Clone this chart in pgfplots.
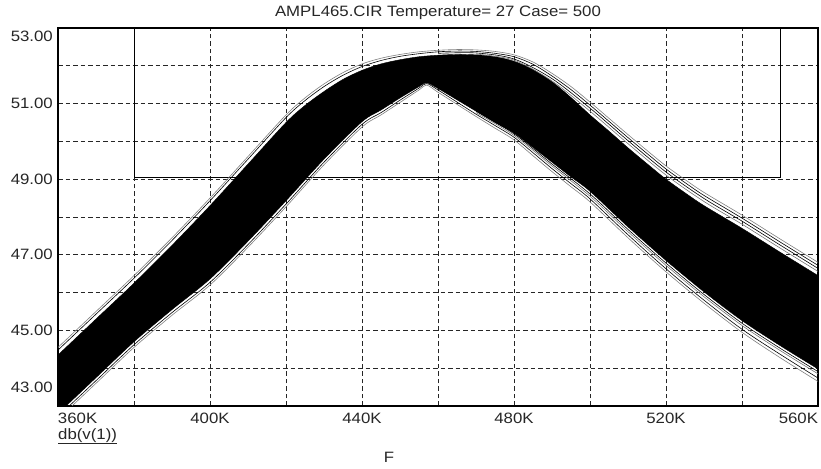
\documentclass[border=0pt]{standalone}
\usepackage{fontspec}
\setmainfont{Liberation Sans}[FakeStretch=1.12]
\usepackage{pgfplots}
\pgfplotsset{compat=1.18}
\newcommand{\fs}{\fontsize{15}{17}\selectfont}
\begin{document}
\begin{tikzpicture}
\begin{axis}[
    scale only axis,
    width=760pt, height=378pt,
    xmin=360, xmax=560, ymin=43, ymax=53,
    axis line style={line width=1.1pt},
    xtick={360,400,...,560}, minor xtick={380,420,...,540},
    ytick={43,45,...,53}, minor ytick={44,46,...,52},
    major tick length=0pt, minor tick length=0pt,
    grid=both,
    major grid style={black!85, line width=0.7pt, dash pattern=on 4.5pt off 3pt},
    minor grid style={black!85, line width=0.7pt, dash pattern=on 4.5pt off 3pt},
    xticklabels={\makebox[0pt][l]{360K},400K,440K,480K,520K,\makebox[0pt][r]{560K}},
    yticklabels={\smash{\raisebox{13pt}{43.00}},\smash{\raisebox{-5pt}{45.00}},
                 \smash{\raisebox{-5pt}{47.00}},\smash{\raisebox{-5pt}{49.00}},
                 \smash{\raisebox{-5pt}{51.00}},\smash{\raisebox{-13.7pt}{53.00}}},
    xticklabel style={font=\fs, color=black!85, anchor=north, inner sep=0pt, yshift=-7pt},
    yticklabel style={font=\fs, color=black!85, anchor=east, inner sep=0pt, xshift=-5pt},
    title={AMPL465.CIR Temperature= 27 Case= 500},
    title style={font=\fs, color=black!85, at={(0.5,1)}, anchor=south, inner sep=0pt, yshift=2pt},
    xlabel={F},
    xlabel style={font=\fs, color=black!85, at={(0.4355,0)}, anchor=north, inner sep=0pt, yshift=-46pt},
    every axis plot/.append style={smooth, tension=0.5},
    clip=true,
  ]
  % spec box
  \addplot[black, line width=0.8pt, sharp plot] coordinates {(380,53.2) (380,49.05) (550,49.05) (550,53.2)};

  % dense band of Monte Carlo runs
  \addplot[fill=black, draw=black, line width=0.4pt] coordinates {
    (355,43.88) (360,44.35) (370,45.30) (380,46.25) (390,47.25) (400,48.30) (410,49.40)
    (420,50.50) (425,50.95) (430,51.32) (435,51.64) (440,51.88) (445,52.05)
    (450,52.16) (455,52.24) (460,52.28) (465,52.30) (470,52.29) (475,52.24)
    (480,52.12) (485,51.90) (490,51.58) (495,51.16) (500,50.70) (505,50.27)
    (510,49.83) (515,49.41) (520,49.00) (525,48.64) (530,48.30) (540,47.70)
    (550,47.07) (560,46.45) (565,46.14)
    (565,43.68) (560,43.98) (550,44.60) (540,45.26) (530,46.02) (520,46.85) (510,47.74)
    (500,48.68) (495,49.06) (490,49.45) (485,49.84) (480,50.22) (475,50.50)
    (470,50.80) (465,51.10) (460,51.40) (457,51.55) (455,51.45) (450,51.15)
    (445,50.83) (440,50.52) (430,49.53) (420,48.43) (410,47.36) (400,46.36)
    (390,45.55) (380,44.70) (370,43.75) (360,42.80) (355,42.33)
  } -- cycle;

  % outer runs, upper side
  \addplot[black!50, line width=0.6pt] coordinates {
    (360,44.55) (370,45.50) (380,46.45) (390,47.45) (400,48.50) (410,49.60)
    (420,50.70) (425,51.15) (430,51.52) (435,51.82) (440,52.05) (445,52.20)
    (450,52.30) (455,52.37) (460,52.41) (465,52.43) (470,52.42) (475,52.38)
    (480,52.29) (485,52.10) (490,51.80) (495,51.45) (500,51.04) (505,50.61)
    (510,50.18) (515,49.76) (520,49.35) (525,48.99) (530,48.65) (540,48.05)
    (550,47.42) (560,46.80)
  };
  \addplot[black, line width=0.6pt] coordinates {
    (360,44.48) (370,45.43) (380,46.38) (390,47.38) (400,48.43) (410,49.53)
    (420,50.63) (425,51.08) (430,51.45) (435,51.75) (440,51.98) (445,52.14)
    (450,52.25) (455,52.32) (460,52.37) (465,52.39) (470,52.38) (475,52.33)
    (480,52.24) (485,52.04) (490,51.73) (495,51.37) (500,50.96) (505,50.53)
    (510,50.10) (515,49.68) (520,49.27) (525,48.91) (530,48.57) (540,47.97)
    (550,47.34) (560,46.72)
  };
  \addplot[black, line width=0.6pt] coordinates {
    (460,52.33) (470,52.34) (480,52.18) (490,51.66) (500,50.88) (510,50.02)
    (520,49.19) (530,48.49) (540,47.89) (550,47.26) (560,46.64)
  };
  \addplot[black!55, line width=0.6pt] coordinates {
    (470,52.31) (480,52.15) (490,51.60) (500,50.80) (510,49.94)
    (520,49.11) (530,48.41) (540,47.81) (550,47.18) (560,46.56)
  };

  % outer runs, lower side
  \addplot[black!50, line width=0.6pt] coordinates {
    (360,42.65) (370,43.60) (380,44.55) (390,45.40) (400,46.20) (410,47.20)
    (420,48.27) (430,49.38) (440,50.38) (445,50.70) (450,51.03) (455,51.36)
    (457,51.49) (460,51.30) (465,50.98) (470,50.66) (475,50.35) (480,50.04)
    (485,49.62) (490,49.20) (495,48.80) (500,48.40) (510,47.45) (520,46.55)
    (530,45.72) (540,44.95) (550,44.28) (560,43.65)
  };
  \addplot[black, line width=0.6pt] coordinates {
    (360,42.72) (370,43.67) (380,44.62) (390,45.47) (400,46.27) (410,47.27)
    (420,48.34) (430,49.45) (440,50.45) (445,50.76) (450,51.09) (455,51.41)
    (457,51.53) (460,51.36) (465,51.04) (470,50.72) (475,50.42) (480,50.11)
    (485,49.70) (490,49.28) (495,48.88) (500,48.48) (510,47.53) (520,46.63)
    (530,45.80) (540,45.03) (550,44.37) (560,43.74)
  };
  \addplot[black!55, line width=0.6pt] coordinates {
    (470,50.76) (480,50.16) (490,49.35) (500,48.55) (510,47.61) (520,46.72)
    (530,45.89) (540,45.13) (550,44.47) (560,43.85)
  };
  \addplot[black, line width=0.6pt] coordinates {
    (470,50.80) (480,50.20) (490,49.40) (500,48.61) (510,47.67) (520,46.78)
    (530,45.95) (540,45.19) (550,44.53) (560,43.91)
  };
\end{axis}
\node[anchor=north west, inner sep=0pt, font=\fs, text=black!85]
  at ([yshift=-22pt]current axis.south west) {\underline{db(v(1))}};
\path ([xshift=-58pt,yshift=-62pt]current axis.south west) rectangle ++(821pt,468pt);
\end{tikzpicture}
\end{document}
